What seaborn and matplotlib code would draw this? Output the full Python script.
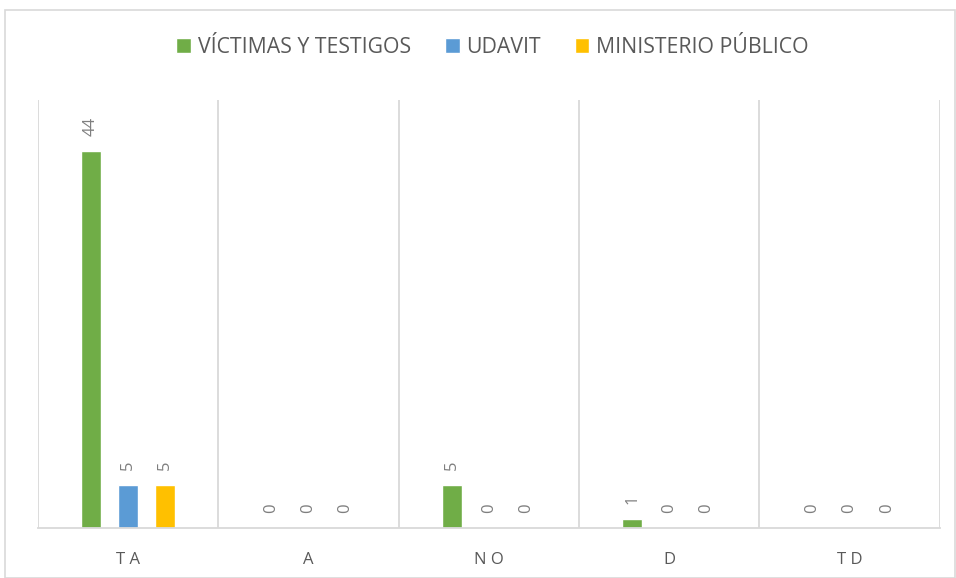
import pandas as pd
import matplotlib.pyplot as plt
import seaborn as sns
from matplotlib.patches import Rectangle

# data
categories = ["T A", "A", "N O", "D", "T D"]
series_names = ["VÍCTIMAS Y TESTIGOS", "UDAVIT", "MINISTERIO PÚBLICO"]
victimas = [44, 0, 5, 1, 0]
udavit = [5, 0, 0, 0, 0]
ministerio = [5, 0, 0, 0, 0]
colors = ["#70AD47", "#5B9BD5", "#FFC000"]

df = pd.DataFrame({
    "categoria": categories * 3,
    "serie": [series_names[0]] * 5 + [series_names[1]] * 5 + [series_names[2]] * 5,
    "valor": victimas + udavit + ministerio,
})

sns.set_style("white")
plt.rcParams["font.family"] = ["Open Sans", "DejaVu Sans"]

fig = plt.figure(figsize=(9.56, 5.78), dpi=100)
ax = fig.add_axes([0.0397, 0.0865, 0.9433, 0.7405])

sns.barplot(data=df, x="categoria", y="valor", hue="serie", order=categories,
            hue_order=series_names, palette=colors, width=0.617, gap=0.46,
            saturation=1, ax=ax, legend=True)

# value labels
for container in ax.containers:
    ax.bar_label(container, labels=[f"{v:.0f}" for v in container.datavalues],
                 rotation=90, padding=11, fontsize=12, color="#7F7F7F")

ax.set_ylim(0, 50)
ax.set_xlim(-0.5, 4.5)
ax.set_yticks([])
ax.set_xlabel("")
ax.set_ylabel("")
ax.tick_params(axis="x", length=0, pad=17, labelsize=12, labelcolor="#595959")

# vertical separators between categories
for b in [-0.5, 0.5, 1.5, 2.5, 3.5, 4.5]:
    ax.axvline(b, color="#D9D9D9", lw=1.3, zorder=0)
for side in ["top", "left", "right"]:
    ax.spines[side].set_visible(False)
ax.spines["bottom"].set_color("#D9D9D9")
ax.spines["bottom"].set_linewidth(1.3)

handles, labels = ax.get_legend_handles_labels()
ax.legend(handles, labels, loc="center", bbox_to_anchor=(0.515, 0.918),
          bbox_transform=fig.transFigure, ncol=3, frameon=False,
          fontsize=15.3, handlelength=0.7, handleheight=0.7,
          handletextpad=0.3, columnspacing=1.6, labelcolor="#595959")

# chart border
fig.patches.append(Rectangle((0.005, 0.0), 0.994, 0.982, transform=fig.transFigure,
                             fill=False, edgecolor="#D9D9D9", lw=1.2))

fig.savefig("out.png", dpi=100)
